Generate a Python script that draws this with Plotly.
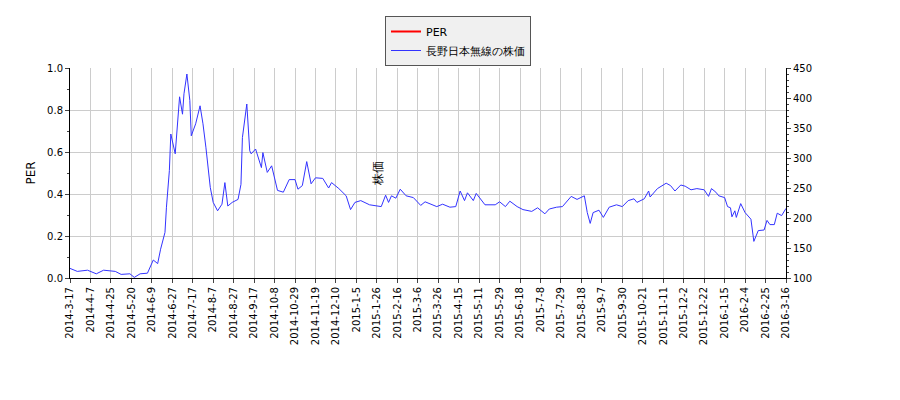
import plotly.graph_objects as go

idx = [0,5,12,18,23,31,35,41,44,48,53,55,57,60,62,65,66,68,69,72,74,75,77,78,80,82,83,86,89,91,93,96,98,101,104,106,108,111,115,117,118,121,123,124,127,131,132,135,138,142,146,150,154,156,159,162,165,168,173,177,179,184,189,192,195,199,205,213,216,218,220,223,226,230,235,240,243,251,255,260,264,267,270,272,276,278,284,291,294,298,301,306,310,316,320,325,328,333,337,343,347,352,354,356,358,362,365,369,374,378,382,386,388,393,396,397,402,408,411,414,418,421,425,429,434,437,439,442,444,448,450,452,453,455,456,459,462,466,468,471,475,477,479,482,484,487,490]
price = [116,111,113,107,113,111,106,107,101,107,108,119,130,124,148,176,218,279,340,307,368,402,373,407,440,396,337,357,387,357,318,251,226,212,223,259,220,226,231,256,334,390,312,307,315,284,309,276,287,246,243,264,264,248,254,294,257,267,266,250,259,249,237,214,226,229,222,219,238,226,237,233,248,237,234,221,227,219,223,218,219,245,229,242,229,241,222,222,227,219,228,219,214,211,217,207,215,218,219,236,231,237,209,191,209,213,201,218,222,219,229,232,226,232,245,235,249,258,254,245,255,253,247,249,247,236,249,243,237,234,219,217,202,212,201,224,209,198,161,179,180,196,189,189,208,204,216]
tick_labels = ["2014-3-17","2014-4-7","2014-4-25","2014-5-20","2014-6-9","2014-6-27","2014-7-17","2014-8-7","2014-8-27","2014-9-17","2014-10-8","2014-10-29","2014-11-19","2014-12-10","2015-1-5","2015-1-26","2015-2-16","2015-3-6","2015-3-26","2015-4-15","2015-5-11","2015-5-29","2015-6-18","2015-7-8","2015-7-29","2015-8-18","2015-9-7","2015-9-30","2015-10-21","2015-11-11","2015-12-2","2015-12-22","2016-1-15","2016-2-4","2016-2-25","2016-3-16"]
tick_pos = [i*14 for i in range(len(tick_labels))]

fig = go.Figure()
fig.add_trace(go.Scatter(x=[None], y=[None], mode="lines", name="PER", line=dict(color="red", width=2), yaxis="y"))
fig.add_trace(go.Scatter(x=idx, y=price, mode="lines", name="長野日本無線の株価", line=dict(color="#3333ff", width=1), yaxis="y2"))

fig.update_layout(
    width=900, height=400, margin=dict(l=62, r=122, t=60, b=130, autoexpand=False),
    paper_bgcolor="white", plot_bgcolor="white",
    font=dict(family="DejaVu Sans", size=10, color="black"),
    showlegend=True,
    legend=dict(x=0.5, xanchor="center", xref="container", y=0.98, yanchor="top", yref="container",
                bordercolor="#555", borderwidth=1, bgcolor="#f0f0f0", font=dict(size=11)),
    xaxis=dict(range=[0,490], tickvals=tick_pos, ticktext=tick_labels, tickangle=-90, showgrid=True, gridcolor="#cccccc",
               ticks="outside", ticklen=4, showline=True, linecolor="black", zeroline=False, automargin=False),
    yaxis=dict(title=dict(text="PER", standoff=8), range=[0,1], dtick=0.2, tickformat=".1f", showgrid=True, gridcolor="#cccccc",
               ticks="outside", ticklen=4, showline=True, linecolor="black", zeroline=False, automargin=False,
               minor=dict(dtick=0.1, ticks="outside", ticklen=2, showgrid=False)),
    yaxis2=dict(title=dict(text="株価", standoff=8), overlaying="y", side="right", range=[100,450], dtick=50, showgrid=False,
                ticks="outside", ticklen=4, showline=True, linecolor="black", zeroline=False, automargin=False,
                minor=dict(dtick=10, ticks="outside", ticklen=2)),
)
fig.write_html("out.html")
